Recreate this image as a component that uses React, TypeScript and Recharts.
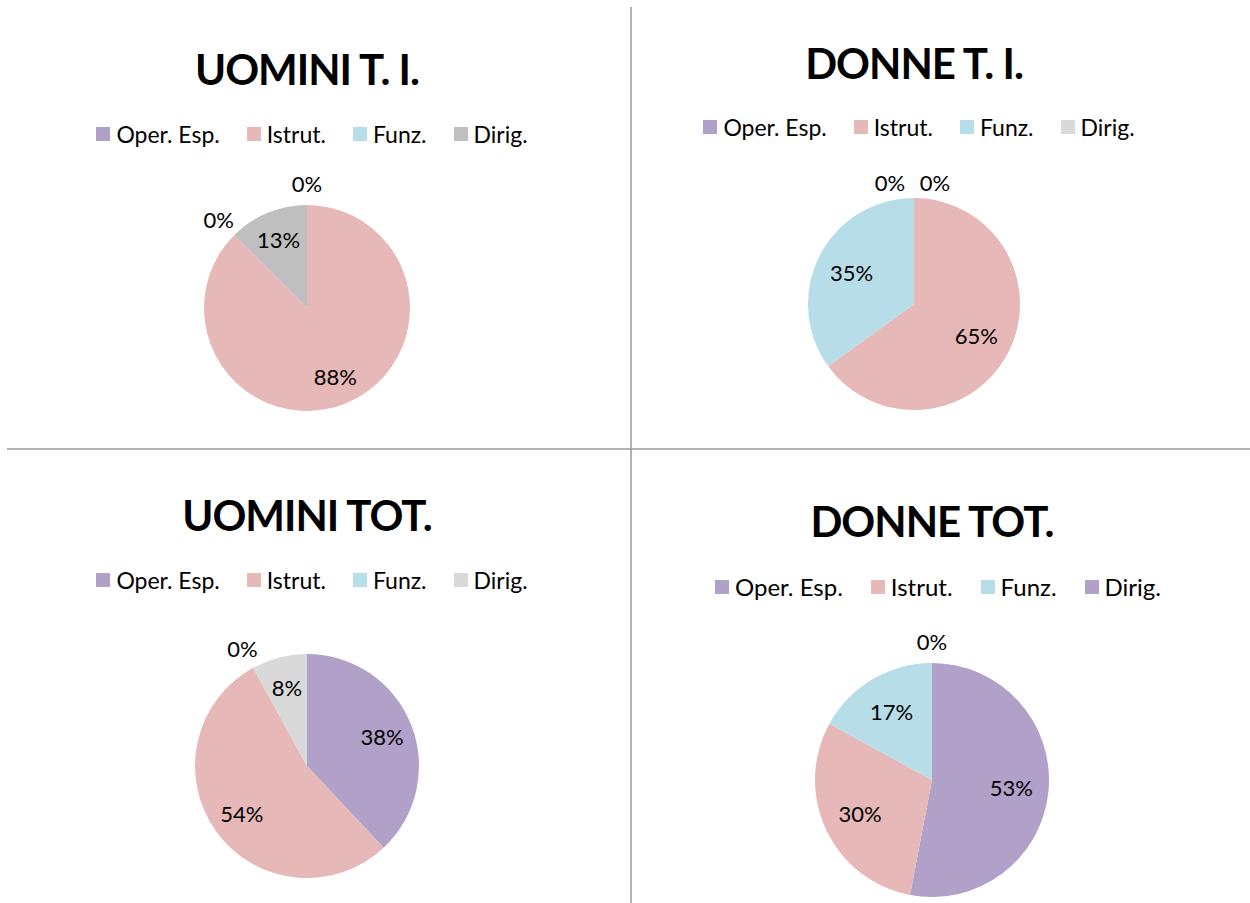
import React from 'react';
import { PieChart, Pie, Cell, Legend } from 'recharts';

const categories = ['Oper. Esp.', 'Istrut.', 'Funz.', 'Dirig.'];
const uominiTI = [0, 87.5, 0, 12.5];
const donneTI = [0, 65, 35, 0];
const uominiTot = [38, 54, 0, 8];
const donneTot = [53, 30, 17, 0];
const titles = ['UOMINI T. I.', 'DONNE T. I.', 'UOMINI TOT.', 'DONNE TOT.'];

const PURPLE = '#B1A0C7';
const PINK = '#E6B8B7';
const BLUE = '#B7DEE8';
const GREY = '#BFBFBF';
const LGREY = '#D9D9D9';

const FONT = 'Lato, "Open Sans", sans-serif';

type Cfg = {
  title: string;
  values: number[];
  colors: string[];
  left: number;
  top: number;
  cx: number;
  cy: number;
  r: number;
  inner: number;
  titleX: number;
  titleY: number;
  legendLeft: number;
  legendTop: number;
  legendWidth: number;
  legendFont: number;
  legendGap: number;
};

const configs: Cfg[] = [
  { title: titles[0], values: uominiTI, colors: [PURPLE, PINK, BLUE, GREY], left: 10, top: 8, cx: 297, cy: 300, r: 103, inner: 0.72, titleX: 307, titleY: 85, legendLeft: 52, legendTop: 112, legendWidth: 500, legendFont: 23, legendGap: 27 },
  { title: titles[1], values: donneTI, colors: [PURPLE, PINK, BLUE, LGREY], left: 632, top: 8, cx: 282, cy: 296, r: 106, inner: 0.66, titleX: 914, titleY: 79, legendLeft: 37, legendTop: 105, legendWidth: 500, legendFont: 23, legendGap: 27 },
  { title: titles[2], values: uominiTot, colors: [PURPLE, PINK, BLUE, LGREY], left: 10, top: 450, cx: 297, cy: 316, r: 112, inner: 0.72, titleX: 307, titleY: 531, legendLeft: 52, legendTop: 116, legendWidth: 500, legendFont: 23, legendGap: 27 },
  { title: titles[3], values: donneTot, colors: [PURPLE, PINK, BLUE, PURPLE], left: 632, top: 450, cx: 300, cy: 330, r: 117, inner: 0.68, titleX: 932, titleY: 537, legendLeft: 46, legendTop: 122, legendWidth: 520, legendFont: 24, legendGap: 28 },
];

const RAD = Math.PI / 180;

function makeLabel(values: number[], inner: number) {
  const total = values.reduce((a, b) => a + b, 0);
  return (props: any) => {
    const { cx, cy, midAngle, outerRadius, index } = props;
    const v = values[index];
    const pct = Math.round((v / total) * 100);
    let x: number;
    let y: number;
    if (v === 0) {
      const rr = outerRadius + 22;
      x = cx + rr * Math.cos(-midAngle * RAD);
      y = cy + rr * Math.sin(-midAngle * RAD);
      // separate zero labels that fall at the same angle
      let cum = 0;
      const angles: number[] = [];
      values.forEach((val) => {
        angles.push(((cum + val / 2) / total) % 1);
        cum += val;
      });
      const myA = angles[index];
      const twins = values
        .map((val, i) => ({ val, i }))
        .filter((o) => o.val === 0 && Math.abs(angles[o.i] - myA) < 1e-6);
      if (twins.length > 1) {
        const pos = twins.findIndex((o) => o.i === index);
        x += pos === 0 ? 21 : -24;
        y += 6;
      }
    } else {
      const rr = outerRadius * inner;
      x = cx + rr * Math.cos(-midAngle * RAD);
      y = cy + rr * Math.sin(-midAngle * RAD);
    }
    return (
      <text
        x={x}
        y={y}
        textAnchor="middle"
        dominantBaseline="central"
        fill="#000"
        fontSize={22}
        fontFamily={FONT}
      >
        {pct + '%'}
      </text>
    );
  };
}

function makeLegend(cfg: Cfg) {
  return () => (
    <div
      style={{
        display: 'flex',
        justifyContent: 'center',
        alignItems: 'center',
        gap: cfg.legendGap,
        fontFamily: FONT,
        fontSize: cfg.legendFont,
        color: '#000',
        whiteSpace: 'nowrap',
      }}
    >
      {categories.map((c, i) => (
        <div key={c} style={{ display: 'flex', alignItems: 'center' }}>
          <span
            style={{
              display: 'inline-block',
              width: 14,
              height: 14,
              background: cfg.colors[i],
              marginRight: 6,
            }}
          />
          <span>{c}</span>
        </div>
      ))}
    </div>
  );
}

function OnePie({ cfg }: { cfg: Cfg }) {
  const data = categories.map((name, i) => ({ name, value: cfg.values[i] }));
  return (
    <div style={{ position: 'absolute', left: cfg.left, top: cfg.top }}>
      <PieChart width={618} height={453} margin={{ top: 0, right: 0, bottom: 0, left: 0 }}>
        <Pie
          data={data}
          dataKey="value"
          nameKey="name"
          cx={cfg.cx}
          cy={cfg.cy}
          outerRadius={cfg.r}
          startAngle={90}
          endAngle={-270}
          stroke="none"
          isAnimationActive={false}
          labelLine={false}
          label={makeLabel(cfg.values, cfg.inner)}
        >
          {data.map((d, i) => (
            <Cell key={d.name} fill={cfg.colors[i]} />
          ))}
        </Pie>
        <Legend
          content={makeLegend(cfg)}
          wrapperStyle={{ position: 'absolute', left: cfg.legendLeft, top: cfg.legendTop, width: cfg.legendWidth, bottom: 'auto' }}
        />
      </PieChart>
    </div>
  );
}

export default function App() {
  return (
    <div style={{ position: 'absolute', left: 0, top: 0, width: 1250, height: 903, background: '#fff', overflow: 'hidden' }}>
      {configs.map((c) => (
        <OnePie key={c.title} cfg={c} />
      ))}
      <svg width={1250} height={903} style={{ position: 'absolute', left: 0, top: 0, pointerEvents: 'none' }}>
        <line x1={631} y1={7} x2={631} y2={903} stroke="#9a9a9a" strokeWidth={1.5} />
        <line x1={7} y1={449} x2={1250} y2={449} stroke="#9a9a9a" strokeWidth={1.5} />
        {configs.map((c) => (
          <text
            key={c.title}
            x={c.titleX}
            y={c.titleY}
            textAnchor="middle"
            fontFamily={FONT}
            fontWeight="bold"
            fontSize={42}
            letterSpacing={-1}
            fill="#000"
          >
            {c.title}
          </text>
        ))}
      </svg>
    </div>
  );
}
